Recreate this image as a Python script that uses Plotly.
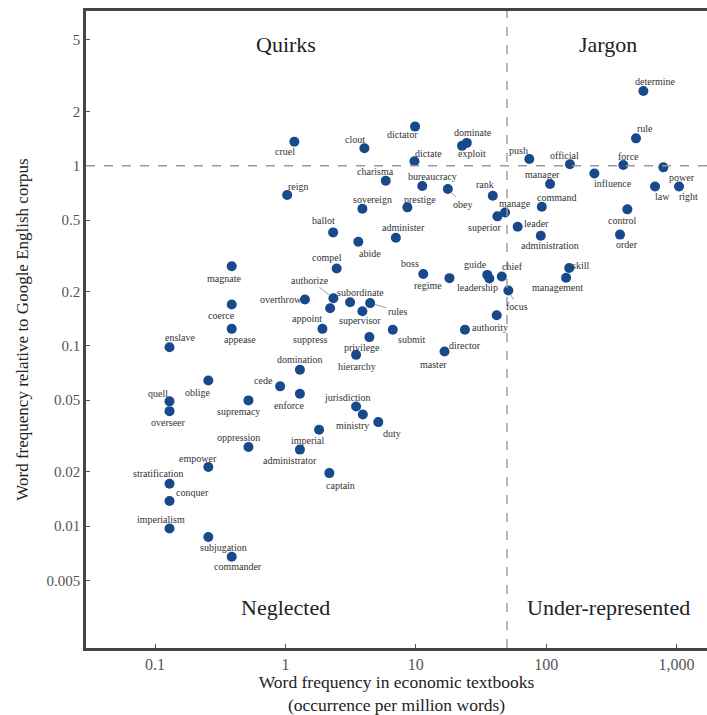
import math
import plotly.graph_objects as go

words = ["determine", "rule", "push", "official", "force", "power", "influence", "manager",
         "rank", "law", "right", "command", "manage", "superior", "leader", "control",
         "administration", "order", "skill", "management", "dictator", "clout", "dominate",
         "exploit", "dictate", "charisma", "bureaucracy", "obey", "sovereign", "prestige",
         "ballot", "abide", "administer", "compel", "boss", "regime", "guide", "leadership",
         "chief", "focus", "authority", "director", "master", "submit", "privilege",
         "hierarchy", "suppress", "overthrow", "authorize", "appoint", "subordinate", "rules",
         "supervisor", "magnate", "coerce", "appease", "enslave", "domination", "oblige",
         "cede", "enforce", "quell", "overseer", "supremacy", "jurisdiction", "ministry",
         "duty", "imperial", "oppression", "administrator", "empower", "captain",
         "stratification", "conquer", "imperialism", "subjugation", "commander", "cruel",
         "reign"]

textbook_freq = [556, 488, 74.2, 152, 390, 791, 234, 107,
                 38.9, 683, 1043, 92.4, 48.3, 42.2, 60.4, 419,
                 90.8, 368, 150, 142, 9.86, 4.03, 24.6,
                 22.6, 9.75, 5.88, 11.2, 17.6, 3.89, 8.61,
                 2.32, 3.62, 7.02, 2.47, 11.4, 18.1, 35.3, 36.6,
                 45.6, 51.2, 41.7, 23.8, 16.6, 6.65, 4.40,
                 3.48, 1.92, 1.41, 2.33, 2.20, 3.13, 4.46,
                 3.89, 0.387, 0.387, 0.387, 0.129, 1.29, 0.256,
                 0.910, 1.29, 0.129, 0.129, 0.520, 3.48, 3.92,
                 5.15, 1.81, 0.520, 1.29, 0.256, 2.17,
                 0.129, 0.129, 0.129, 0.256, 0.387, 1.17,
                 1.03]

relative_freq = [2.60, 1.42, 1.09, 1.02, 1.01, 0.98, 0.906, 0.792,
                 0.682, 0.768, 0.768, 0.593, 0.551, 0.524, 0.459, 0.573,
                 0.409, 0.415, 0.271, 0.239, 1.65, 1.25, 1.34,
                 1.29, 1.06, 0.826, 0.772, 0.743, 0.578, 0.588,
                 0.427, 0.379, 0.399, 0.269, 0.251, 0.238, 0.248, 0.237,
                 0.243, 0.203, 0.148, 0.123, 0.0932, 0.123, 0.112,
                 0.0893, 0.1245, 0.181, 0.184, 0.162, 0.175, 0.173,
                 0.156, 0.277, 0.170, 0.1245, 0.0985, 0.0738, 0.0644,
                 0.0597, 0.0543, 0.0493, 0.0435, 0.0499, 0.0462, 0.0417,
                 0.0378, 0.0343, 0.0275, 0.0266, 0.0213, 0.0197,
                 0.0172, 0.0138, 0.0097, 0.0087, 0.00676, 1.36,
                 0.688]

x_tick_vals = [0.1, 1, 10, 100, 1000]
x_tick_text = ["0.1", "1", "10", "100", "1,000"]
y_tick_vals = [5, 2, 1, 0.5, 0.2, 0.1, 0.05, 0.02, 0.01, 0.005]
y_tick_text = ["5", "2", "1", "0.5", "0.2", "0.1", "0.05", "0.02", "0.01", "0.005"]

x_threshold = 50
y_threshold = 1

quadrants = ["Quirks", "Jargon", "Neglected", "Under-represented"]
x_title = "Word frequency in economic textbooks<br>(occurrence per million words)"
y_title = "Word frequency relative to Google English corpus"

# label offsets in pixels (dx right, dy down) from each point
label_offsets = {
    "determine": (12, -10), "rule": (9, -10), "push": (-11, -9), "official": (-5, -9),
    "force": (5, -9), "power": (19, 10), "influence": (19, 10), "manager": (-8, -10),
    "rank": (-8, -11), "law": (7, 10), "right": (9, 10), "command": (15, -9),
    "manage": (10, -9), "superior": (-13, 11), "leader": (19, -3), "control": (-5, 11),
    "administration": (9, 10), "order": (7, 10), "skill": (11, -2), "management": (-9, 10),
    "dictator": (-13, 8), "clout": (-9, -9), "dominate": (6, -10), "exploit": (10, 8),
    "dictate": (14, -8), "charisma": (-10, -9), "bureaucracy": (10, -10), "obey": (15, 15),
    "sovereign": (10, -9), "prestige": (13, -8), "ballot": (-10, -12), "abide": (12, 12),
    "administer": (8, -10), "compel": (-10, -11), "boss": (-13, -10), "regime": (-21, 7),
    "guide": (-12, -10), "leadership": (-12, 9), "chief": (11, -10), "focus": (9, 16),
    "authority": (-7, 12), "director": (0, 16), "master": (-11, 13), "submit": (19, 10),
    "privilege": (-7, 10), "hierarchy": (1, 12), "suppress": (-12, 11), "overthrow": (-24, 0),
    "authorize": (-23, -18), "appoint": (-23, 10), "subordinate": (10, -10), "rules": (28, 8),
    "supervisor": (-2, 9), "magnate": (-8, 12), "coerce": (-10, 11), "appease": (8, 11),
    "enslave": (11, -10), "domination": (0, -10), "oblige": (-10, 12), "cede": (-17, -6),
    "enforce": (-10, 12), "quell": (-12, -8), "overseer": (-1, 11), "supremacy": (-10, 11),
    "jurisdiction": (-9, -9), "ministry": (-10, 11), "duty": (14, 11), "imperial": (-11, 11),
    "oppression": (-10, -10), "administrator": (-10, 11), "empower": (-10, -9),
    "captain": (11, 12), "stratification": (-11, -10), "conquer": (23, -8),
    "imperialism": (-9, -9), "subjugation": (15, 10), "commander": (6, 10),
    "cruel": (-9, 10), "reign": (11, -9),
}
leader_lines = {"obey", "focus", "rules", "authorize"}

serif = "Liberation Serif, Times New Roman, serif"

fig = go.Figure()
fig.add_trace(go.Scatter(
    x=textbook_freq, y=relative_freq, mode="markers",
    marker=dict(size=10, color="#18498c"),
    hoverinfo="text", text=words, showlegend=False,
))

annotations = []
for w, xv, yv in zip(words, textbook_freq, relative_freq):
    dx, dy = label_offsets[w]
    line = w in leader_lines
    annotations.append(dict(
        x=math.log10(xv), y=math.log10(yv), xref="x", yref="y", text=w,
        showarrow=True, ax=dx, ay=dy,
        arrowhead=0, arrowwidth=0.7 if line else 0.1,
        arrowcolor="#777777" if line else "rgba(0,0,0,0)",
        standoff=5, startstandoff=0,
        font=dict(family=serif, size=10, color="#333333"),
    ))

quad_pos = [(0.3215, 0.948), (0.841, 0.948), (0.3215, 0.064), (0.841, 0.064)]
for q, (px, py) in zip(quadrants, quad_pos):
    annotations.append(dict(
        x=px, y=py, xref="paper", yref="paper", text=q, showarrow=False,
        xanchor="center", yanchor="middle",
        font=dict(family=serif, size=22, color="#222222"),
    ))

fig.update_layout(
    width=707, height=715,
    margin=dict(l=86, r=0, t=11, b=67),
    paper_bgcolor="white", plot_bgcolor="white",
    annotations=annotations,
    shapes=[
        dict(type="line", xref="x", yref="paper", x0=x_threshold, x1=x_threshold, y0=0, y1=1,
             line=dict(color="#9a9a9a", width=1.4, dash="dash")),
        dict(type="line", xref="paper", yref="y", x0=0, x1=1, y0=y_threshold, y1=y_threshold,
             line=dict(color="#9a9a9a", width=1.4, dash="dash")),
    ],
)

fig.update_xaxes(
    type="log", range=[-1.53, 3.233], automargin=False,
    tickvals=x_tick_vals, ticktext=x_tick_text,
    showgrid=False, zeroline=False,
    showline=True, linecolor="#444444", linewidth=2.5, mirror=True,
    ticks="inside", ticklen=4, tickcolor="#555555",
    tickfont=dict(family=serif, size=16, color="#555555"),
    title=dict(text=x_title,
               font=dict(family=serif, size=17.5, color="#222222"), standoff=7),
)
fig.update_yaxes(
    type="log", range=[-2.676, 0.859], automargin=False,
    tickvals=y_tick_vals, ticktext=y_tick_text,
    showgrid=False, zeroline=False,
    showline=True, linecolor="#444444", linewidth=2.5, mirror=False,
    ticks="inside", ticklen=4, tickcolor="#555555",
    tickfont=dict(family=serif, size=15, color="#555555"),
    title=dict(text=y_title,
               font=dict(family=serif, size=17, color="#222222"), standoff=14),
)

fig.write_html("out.html", config={"displayModeBar": False},
               post_script="document.body.style.margin='0';")
